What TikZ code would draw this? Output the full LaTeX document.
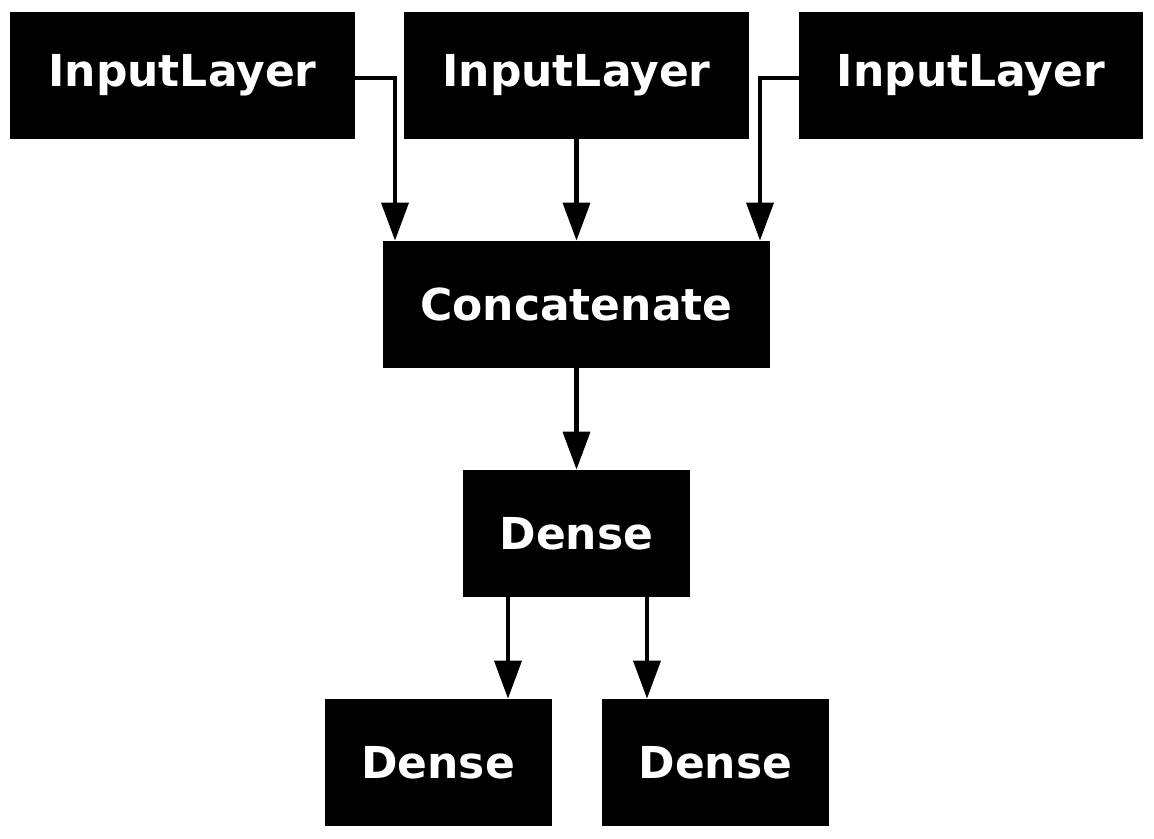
\documentclass[tikz,border=0pt]{standalone}
\usepackage{fontspec}
\setmainfont{DejaVu Sans}
\usepackage{tikz}
\usetikzlibrary{arrows.meta}

\tikzset{
    camada/.style={rectangle, fill=black, text=white, inner sep=0pt,
        minimum height=95.25pt, font=\fontsize{33}{40}\selectfont\bfseries},
    seta/.style={line width=3.4pt, -{Triangle[length=28.5pt, width=20pt]}}
}

\begin{document}
\begin{tikzpicture}[x=0.75pt, y=-0.75pt]
        \useasboundingbox (0,0) rectangle (1154,839);

        % Entradas
        \node[camada, minimum width=258.75pt] (in1) at (182.5,75.5) {InputLayer};
        \node[camada, minimum width=258.75pt] (in2) at (576.5,75.5) {InputLayer};
        \node[camada, minimum width=258pt] (in3) at (971,75.5) {InputLayer};

        % Meio
        \node[camada, minimum width=290.25pt] (cc) at (576.5,304.5) {Concatenate};
        \node[camada, minimum width=170.25pt] (d1) at (576.5,533.5) {Dense};

        % Saidas
        \node[camada, minimum width=170.25pt] (d2) at (438,762.5) {Dense};
        \node[camada, minimum width=170.25pt] (d3) at (715.5,762.5) {Dense};

        \coordinate (ca) at (395,78);
        \coordinate (cb) at (760,78);
        \coordinate (xa) at (508,0);
        \coordinate (xb) at (647,0);

        \draw[seta] (in1.east |- ca) -- (ca) -- (cc.north -| ca);
        \draw[seta] (in2) -- (cc);
        \draw[seta] (in3.west |- cb) -- (cb) -- (cc.north -| cb);
        \draw[seta] (cc) -- (d1);
        \draw[seta] (d1.south -| xa) -- (d2.north -| xa);
        \draw[seta] (d1.south -| xb) -- (d3.north -| xb);
    \end{tikzpicture}
\end{document}
